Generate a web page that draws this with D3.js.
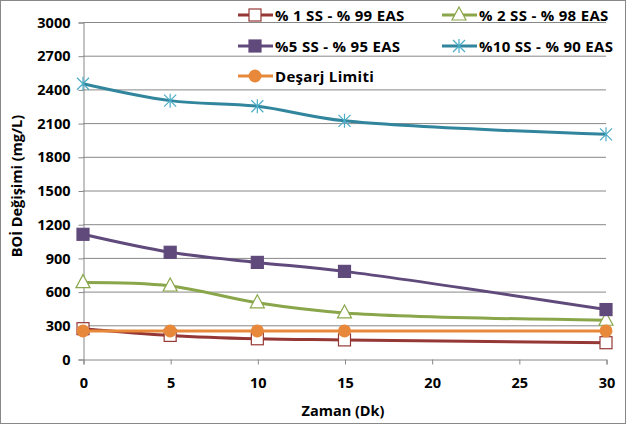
<html>
<head>
<script src="https://d3js.org/d3.v7.min.js"></script>
<style>
  body { margin: 0; background: #fff; }
  text { font-family: "Open Sans", "Noto Sans", sans-serif; font-weight: bold; fill: #000; }
</style>
</head>
<body>
<svg id="chart" width="627" height="425"></svg>
<script>
// time points (minutes)
const zaman = [0, 5, 10, 15, 30];
// BOİ values per mix
const ss1 = [270, 210, 180, 170, 145];
const ss2 = [680, 650, 500, 410, 345];
const ss5 = [1110, 950, 860, 780, 440];
const ss10 = [2450, 2300, 2250, 2120, 2000];
const limit = [250, 250, 250, 250, 250];

const xTicks = [0, 5, 10, 15, 20, 25, 30];
const yTicks = [0, 300, 600, 900, 1200, 1500, 1800, 2100, 2400, 2700, 3000];

const series = [
  { name: "% 1 SS - % 99 EAS", values: ss1, color: "#953735", marker: "square", fill: "#fff", mcolor: "#953735" },
  { name: "% 2 SS - % 98 EAS", values: ss2, color: "#8AA64A", marker: "triangle", fill: "#fff", mcolor: "#8AA64A" },
  { name: "%5 SS - % 95 EAS", values: ss5, color: "#604A7B", marker: "square", fill: "#604A7B", mcolor: "#604A7B" },
  { name: "%10 SS - % 90 EAS", values: ss10, color: "#31859C", marker: "star", fill: "none", mcolor: "#4BACC6" },
  { name: "Deşarj Limiti", values: limit, color: "#E8883A", marker: "circle", fill: "#E8883A", mcolor: "#E8883A" }
];

const svg = d3.select("svg#chart");
const margin = { top: 22, right: 21, bottom: 66, left: 83 };
const width = +svg.attr("width"), height = +svg.attr("height");

svg.append("rect").attr("x", 0.5).attr("y", 0.5).attr("width", width - 2).attr("height", height - 2)
  .attr("fill", "#fff").attr("stroke", "#888");

const x = d3.scaleLinear().domain([0, 30]).range([margin.left, width - margin.right]);
const y = d3.scaleLinear().domain([0, 3000]).range([height - margin.bottom, margin.top]);

// gridlines
svg.append("g").selectAll("line").data(yTicks.slice(1)).join("line")
  .attr("x1", margin.left).attr("x2", width - margin.right)
  .attr("y1", d => y(d) + 0.5).attr("y2", d => y(d) + 0.5)
  .attr("stroke", "#888").attr("stroke-width", 1);

// y axis
const yAxis = svg.append("g").attr("transform", `translate(${margin.left + 0.5},0.5)`)
  .call(d3.axisLeft(y).tickValues(yTicks).tickFormat(d3.format("d")).tickSize(5).tickPadding(8));
// x axis
const xAxis = svg.append("g").attr("transform", `translate(0.5,${height - margin.bottom + 0.5})`)
  .call(d3.axisBottom(x).tickValues(xTicks).tickFormat(d3.format("d")).tickSize(5).tickPadding(13));
[yAxis, xAxis].forEach(a => {
  a.selectAll(".domain, line").attr("stroke", "#888");
  a.selectAll("text").attr("font-size", 14.5).attr("font-family", "Open Sans").attr("font-weight", "bold");
});

svg.append("text").attr("transform", `translate(22,186) rotate(-90)`)
  .attr("text-anchor", "middle").attr("font-size", 14.5).text("BOİ Değişimi (mg/L)");
svg.append("text").attr("x", 343).attr("y", 416)
  .attr("text-anchor", "middle").attr("font-size", 14.5).text("Zaman (Dk)");

function drawMarker(g, s, cx, cy) {
  if (s.marker === "square") {
    g.append("rect").attr("x", cx - 6).attr("y", cy - 6).attr("width", 12).attr("height", 12)
      .attr("fill", s.fill).attr("stroke", s.mcolor).attr("stroke-width", 1.2);
  } else if (s.marker === "triangle") {
    g.append("path").attr("d", `M${cx},${cy - 8}L${cx + 7},${cy + 5}L${cx - 7},${cy + 5}Z`)
      .attr("fill", s.fill).attr("stroke", s.mcolor).attr("stroke-width", 1.2);
  } else if (s.marker === "circle") {
    g.append("circle").attr("cx", cx).attr("cy", cy).attr("r", 6.5).attr("fill", s.fill);
  } else if (s.marker === "star") {
    const r = 6;
    g.append("path").attr("d", `M${cx - r},${cy - r}L${cx + r},${cy + r}M${cx - r},${cy + r}L${cx + r},${cy - r}M${cx},${cy - r - 1}L${cx},${cy + r + 1}`)
      .attr("stroke", s.mcolor).attr("stroke-width", 1.2).attr("fill", "none");
  }
}

const line = d3.line().x((d, i) => x(zaman[i])).y(d => y(d)).curve(d3.curveCatmullRom.alpha(0.5));

series.forEach(s => {
  const g = svg.append("g");
  g.append("path").attr("d", line(s.values)).attr("fill", "none")
    .attr("stroke", s.color).attr("stroke-width", 3);
  s.values.forEach((v, i) => drawMarker(g, s, x(zaman[i]), y(v)));
});

// legend
const legendPos = [[238, 15], [442, 15], [238, 46], [442, 46], [238, 76]];
series.forEach((s, i) => {
  const [lx, ly] = legendPos[i];
  const g = svg.append("g");
  g.append("line").attr("x1", lx).attr("x2", lx + 35).attr("y1", ly).attr("y2", ly)
    .attr("stroke", s.color).attr("stroke-width", 3);
  drawMarker(g, s, lx + 17, ly);
  g.append("text").attr("x", lx + 37).attr("y", ly + 5.5).attr("font-size", 15)
    .attr("letter-spacing", 0.3).text(s.name);
});
</script>
</body>
</html>
